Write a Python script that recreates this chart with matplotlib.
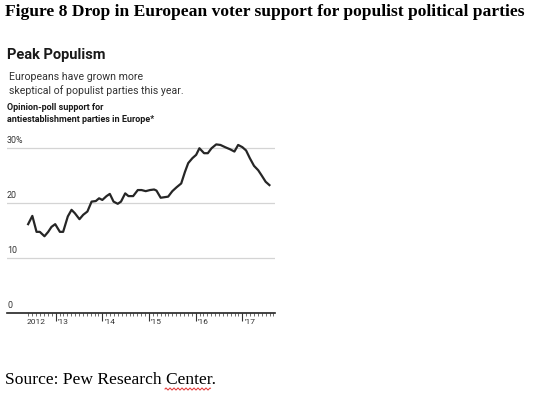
import matplotlib
matplotlib.use("Agg")
import matplotlib.pyplot as plt
import numpy as np
from matplotlib.lines import Line2D
from matplotlib.ticker import FixedLocator

# opinion-poll support (fractional year, percent)
dates = [2012.41, 2012.50, 2012.59, 2012.66, 2012.76, 2012.84, 2012.91, 2012.99,
         2013.09, 2013.16, 2013.26, 2013.34, 2013.41, 2013.51, 2013.59, 2013.68,
         2013.77, 2013.86, 2013.93, 2014.00, 2014.09, 2014.16, 2014.24, 2014.33,
         2014.40, 2014.49, 2014.56, 2014.66, 2014.76, 2014.84, 2014.93, 2015.02,
         2015.11, 2015.16, 2015.25, 2015.41, 2015.50, 2015.59, 2015.69, 2015.77,
         2015.84, 2015.93, 2016.01, 2016.08, 2016.18, 2016.26, 2016.34, 2016.44,
         2016.53, 2016.63, 2016.74, 2016.83, 2016.91, 2017.00, 2017.08, 2017.16,
         2017.25, 2017.34, 2017.41, 2017.50, 2017.58]
support = [16.1, 17.6, 14.7, 14.7, 13.9, 14.7, 15.6, 16.1,
           14.7, 14.7, 17.5, 18.7, 18.1, 17.0, 17.8, 18.4,
           20.2, 20.3, 20.8, 20.5, 21.2, 21.6, 20.2, 19.8,
           20.2, 21.7, 21.2, 21.2, 22.3, 22.3, 22.1, 22.3,
           22.4, 22.2, 20.9, 21.1, 22.1, 22.8, 23.5, 25.6,
           27.2, 28.1, 28.7, 29.9, 29.0, 29.0, 29.9, 30.6,
           30.5, 30.1, 29.7, 29.3, 30.5, 30.1, 29.5, 28.1,
           26.7, 25.9, 25.0, 23.8, 23.2]

y_ticks = [0, 10, 20, 30]
y_labels = ["0", "10", "20", "30%"]
year_ticks = [2013, 2014, 2015, 2016, 2017]
year_labels = ["'13", "'14", "'15", "'16", "'17"]

W, H = 534, 396
fig = plt.figure(figsize=(W / 100, H / 100), dpi=100)
fig.patch.set_facecolor("white")


def px(x, y):
    return x / W, 1 - y / H


sans = ["Roboto", "DejaVu Sans"]
serif = ["Liberation Serif", "DejaVu Serif"]

fig.text(*px(5, 12), "Figure 8 Drop in European voter support for populist political parties",
         family=serif, fontweight="bold", fontsize=12.6, va="center", ha="left", color="#000000")
fig.text(*px(7, 55), "Peak Populism", family=sans, fontweight="bold",
         fontsize=10.5, va="center", ha="left", color="#1a1a1a")
fig.text(*px(9, 77), "Europeans have grown more", family=sans, fontsize=7.6,
         va="center", ha="left", color="#333333")
fig.text(*px(9, 90.5), "skeptical of populist parties this year.", family=sans, fontsize=7.6,
         va="center", ha="left", color="#333333")
fig.text(*px(7, 108), "Opinion-poll support for", family=sans, fontweight="bold", fontsize=6.5,
         va="center", ha="left", color="#1a1a1a")
fig.text(*px(7, 120), "antiestablishment parties in Europe*", family=sans, fontweight="bold",
         fontsize=6.5, va="center", ha="left", color="#1a1a1a")
src = fig.text(*px(5, 380), "Source: Pew Research Center.", family=serif, fontsize=12.6,
               va="center", ha="left", color="#000000")
# only used to measure where "Center" starts, removed before saving
pre = fig.text(*px(5, 380), "Source: Pew Research ", family=serif, fontsize=12.6,
               va="center", ha="left", color="none")

# axes placed so that 2012 -> x=9px, 46.67px per year; 0 -> y=312.7px, 5.5px per point
left, right = 7, 275
x0 = 2012 + (left - 9) / 46.67
x1 = 2012 + (right - 9) / 46.67
bottom_px, top_px = 312.7, 142.2
ax = fig.add_axes([left / W, 1 - bottom_px / H, (right - left) / W, (bottom_px - top_px) / H])
ax.set_xlim(x0, x1)
ax.set_ylim(0, (bottom_px - top_px) / 5.5)

for v in y_ticks[1:]:
    ax.axhline(v, color="#d4d4d4", lw=0.9, zorder=1)
ax.plot(dates, support, color="#262626", lw=1.6, solid_joinstyle="round", zorder=3)

for s in ["top", "right", "left"]:
    ax.spines[s].set_visible(False)
ax.spines["bottom"].set_color("#222222")
ax.spines["bottom"].set_linewidth(1.2)
ax.spines["bottom"].set_zorder(4)

ax.set_yticks([])
for v, lab in zip(y_ticks, y_labels):
    ax.text(0.0, v + 0.45, lab, transform=ax.get_yaxis_transform(), family=sans,
            fontsize=6.4, color="#333333", ha="left", va="bottom")

ax.xaxis.set_major_locator(FixedLocator(year_ticks))
ax.set_xticklabels([])
months = [2012 + 5 / 12 + i / 12 for i in range(64)]
ax.xaxis.set_minor_locator(FixedLocator([m for m in months if m < x1 and round(m % 1 * 12) != 0]))
ax.tick_params(axis="x", which="major", length=5.5, width=0.8, color="#333333", direction="out")
ax.tick_params(axis="x", which="minor", length=1.8, width=0.6, color="#555555", direction="out")

for t, lab in zip(year_ticks, year_labels):
    ax.text(t + 0.04, -1.6, lab, family=sans, fontsize=6, color="#333333",
            ha="left", va="center")
ax.text(2012.59, -1.6, "2012", family=sans, fontsize=6, color="#333333",
        ha="center", va="center")

# red spell-check squiggle under "Center"
fig.canvas.draw()
r = fig.canvas.get_renderer()
b_all = src.get_window_extent(r)
b_pre = pre.get_window_extent(r)
pre.remove()
xs = np.arange(b_pre.x1 - 1, b_all.x1 - 5, 0.5)
ys = b_all.y0 - 1 + 1.0 * np.sin((xs - xs[0]) * np.pi / 2)
fig.add_artist(Line2D(xs / W, ys / H, color="#e03030", lw=0.7))

fig.savefig("out.png", dpi=100, facecolor="white")
